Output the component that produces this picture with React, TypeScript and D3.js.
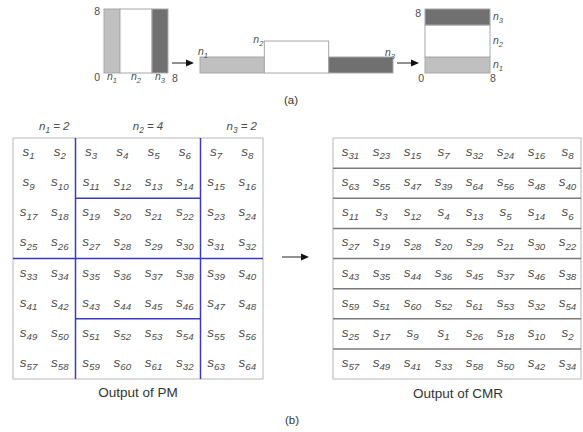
import * as d3 from "d3";

// group sizes n1, n2, n3
const groupKeys = ["1", "2", "3"];
const groupSizes = [2, 4, 2];
const groupFills = ["#c0c0c0", "#ffffff", "#707070"];

// output of PM (row by row)
const pmRows = [
  [1, 2, 3, 4, 5, 6, 7, 8],
  [9, 10, 11, 12, 13, 14, 15, 16],
  [17, 18, 19, 20, 21, 22, 23, 24],
  [25, 26, 27, 28, 29, 30, 31, 32],
  [33, 34, 35, 36, 37, 38, 39, 40],
  [41, 42, 43, 44, 45, 46, 47, 48],
  [49, 50, 51, 52, 53, 54, 55, 56],
  [57, 58, 59, 60, 61, 32, 63, 64],
];

// output of CMR (row by row)
const cmrRows = [
  [31, 23, 15, 7, 32, 24, 16, 8],
  [63, 55, 47, 39, 64, 56, 48, 40],
  [11, 3, 12, 4, 13, 5, 14, 6],
  [27, 19, 28, 20, 29, 21, 30, 22],
  [43, 35, 44, 36, 45, 37, 46, 38],
  [59, 51, 60, 52, 61, 53, 32, 54],
  [25, 17, 9, 1, 26, 18, 10, 2],
  [57, 49, 41, 33, 58, 50, 42, 34],
];

const axisTicks = ["0", "8"];

const textColor = "#4d4d4d";
const boxStroke = "#a8a8a8";
const blue = "#3a3ac0";
const font = "'Liberation Sans', Arial, sans-serif";

function Sub({ base, sub, x, y, size = 12, anchor = "middle", rest = "" }: any) {
  return (
    <text x={x} y={y} fontSize={size} fontStyle="italic" textAnchor={anchor} fill={textColor} fontFamily={font}>
      {base}
      <tspan fontSize={size * 0.72} dy={size * 0.25}>{sub}</tspan>
      {rest ? <tspan dy={-size * 0.25}>{rest}</tspan> : null}
    </text>
  );
}

function Arrow({ x1, x2, y }: any) {
  return (
    <g>
      <line x1={x1} x2={x2 - 6} y1={y} y2={y} stroke="#222" strokeWidth={1} />
      <path d={`M${x2},${y}L${x2 - 8},${y - 3.5}L${x2 - 8},${y + 3.5}Z`} fill="#111" />
    </g>
  );
}

export default function App() {
  const width = 583;
  const height = 432;

  const ends = d3.cumsum(groupSizes);
  const starts = groupSizes.map((n, i) => ends[i] - n);

  // (a) left box: columns
  const xL = d3.scaleLinear([0, 8], [104, 168]);
  const yA = d3.scaleLinear([0, 8], [73, 9]);
  // (a) middle strip
  const xM = d3.scaleBand(groupKeys, [200, 393]);
  // (a) right box: stacked rows
  const xR = d3.scaleLinear([0, 8], [425, 490]);

  // (b) grids
  const cols = d3.range(8).map(String);
  const rowsIdx = d3.range(8).map(String);
  const xPM = d3.scaleBand(cols, [13, 263]);
  const yG = d3.scaleBand(rowsIdx, [138, 379]);
  const xCM = d3.scaleBand(cols, [333, 581]);
  const xPMu = d3.scaleLinear([0, 8], [13, 263]);

  return (
    <svg width={width} height={height} style={{ position: "absolute", left: 0, top: 0, background: "#fff" }} fontFamily={font}>
      {/* ---- (a) ---- */}
      {groupSizes.map((n, i) => (
        <rect key={"l" + i} x={xL(starts[i])} y={yA(8)} width={xL(n) - xL(0)} height={yA(0) - yA(8)}
          fill={groupFills[i]} stroke={boxStroke} strokeWidth={1} />
      ))}
      <text x={100} y={15} fontSize={10.5} textAnchor="end" fill={textColor}>{axisTicks[1]}</text>
      <text x={100} y={81} fontSize={10.5} textAnchor="end" fill={textColor}>{axisTicks[0]}</text>
      <text x={xL(8) + 4} y={82} fontSize={10.5} fill={textColor}>{axisTicks[1]}</text>
      {groupSizes.map((n, i) => (
        <Sub key={"ln" + i} base="n" sub={groupKeys[i]} x={xL(starts[i] + n / 2)} y={80} size={10.5} />
      ))}

      <Arrow x1={172} x2={194} y={63} />

      {groupSizes.map((n, i) => (
        <rect key={"m" + i} x={xM(groupKeys[i])} y={yA(n)} width={xM.bandwidth()} height={yA(0) - yA(n)}
          fill={groupFills[i]} stroke={boxStroke} strokeWidth={1} />
      ))}
      <Sub base="n" sub="1" x={xM(groupKeys[0])! - 2} y={55} size={10.5} anchor="start" />
      <Sub base="n" sub="2" x={xM(groupKeys[1])! - 1} y={43} size={10.5} anchor="end" />
      <Sub base="n" sub="3" x={xM(groupKeys[2])! + xM.bandwidth() + 2} y={56} size={10.5} anchor="end" />

      <Arrow x1={397} x2={419} y={63} />

      {groupSizes.map((n, i) => (
        <rect key={"r" + i} x={xR(0)} y={yA(ends[i])} width={xR(8) - xR(0)} height={yA(0) - yA(n)}
          fill={groupFills[i]} stroke={boxStroke} strokeWidth={1} />
      ))}
      <text x={421} y={17} fontSize={10.5} textAnchor="end" fill={textColor}>{axisTicks[1]}</text>
      <text x={424} y={82} fontSize={10.5} textAnchor="end" fill={textColor}>{axisTicks[0]}</text>
      <text x={xR(8)} y={82} fontSize={10.5} fill={textColor}>{axisTicks[1]}</text>
      {groupSizes.map((n, i) => (
        <Sub key={"rn" + i} base="n" sub={groupKeys[i]} x={xR(8) + 3} y={yA(starts[i] + n / 2) + 3} size={10.5} anchor="start" />
      ))}

      <text x={291} y={104} fontSize={11.5} textAnchor="middle" fill="#333">(a)</text>

      {/* ---- (b) PM grid ---- */}
      <rect x={13} y={138} width={250} height={241} fill="#fff" stroke="#c4c4c4" strokeWidth={1.2} />
      {groupSizes.map((n, i) => (
        <Sub key={"gl" + i} base="n" sub={groupKeys[i]} rest={" = " + n}
          x={(xPMu(starts[i]) + xPMu(ends[i])) / 2 + 10} y={130} size={11.5} />
      ))}
      {pmRows.map((row, r) =>
        row.map((v, c) => (
          <Sub key={`p${r}-${c}`} base="s" sub={String(v)}
            x={xPM(cols[c])! + xPM.bandwidth() / 2} y={yG(rowsIdx[r])! + yG.bandwidth() / 2 + 3} size={13.5} />
        ))
      )}
      {/* partition boundaries */}
      {[ends[0], ends[1]].map((e, i) => (
        <line key={"bv" + i} x1={xPMu(e)} x2={xPMu(e)} y1={138} y2={379} stroke={blue} strokeWidth={1.5} />
      ))}
      <line x1={13} x2={263} y1={yG("4")} y2={yG("4")} stroke={blue} strokeWidth={1.5} />
      {["2", "6"].map((k) => (
        <line key={"bh" + k} x1={xPMu(ends[0])} x2={xPMu(ends[1])} y1={yG(k)} y2={yG(k)} stroke={blue} strokeWidth={1.5} />
      ))}
      <text x={138} y={397} fontSize={13.5} textAnchor="middle" fill="#333">Output of PM</text>

      <Arrow x1={282} x2={309} y={257} />

      {/* ---- (b) CMR grid ---- */}
      <rect x={333} y={138} width={248} height={241} fill="#fff" stroke="#c4c4c4" strokeWidth={1.2} />
      {rowsIdx.slice(1).map((k) => (
        <line key={"ch" + k} x1={333} x2={581} y1={yG(k)} y2={yG(k)} stroke="#7a7a7a" strokeWidth={1.5} />
      ))}
      {cmrRows.map((row, r) =>
        row.map((v, c) => (
          <Sub key={`c${r}-${c}`} base="s" sub={String(v)}
            x={xCM(cols[c])! + xCM.bandwidth() / 2 + 2} y={yG(rowsIdx[r])! + yG.bandwidth() / 2 + 3} size={13.5} />
        ))
      )}
      <text x={458} y={398} fontSize={13.5} textAnchor="middle" fill="#333">Output of CMR</text>

      <text x={292} y={424} fontSize={11.5} textAnchor="middle" fill="#333">(b)</text>
    </svg>
  );
}
